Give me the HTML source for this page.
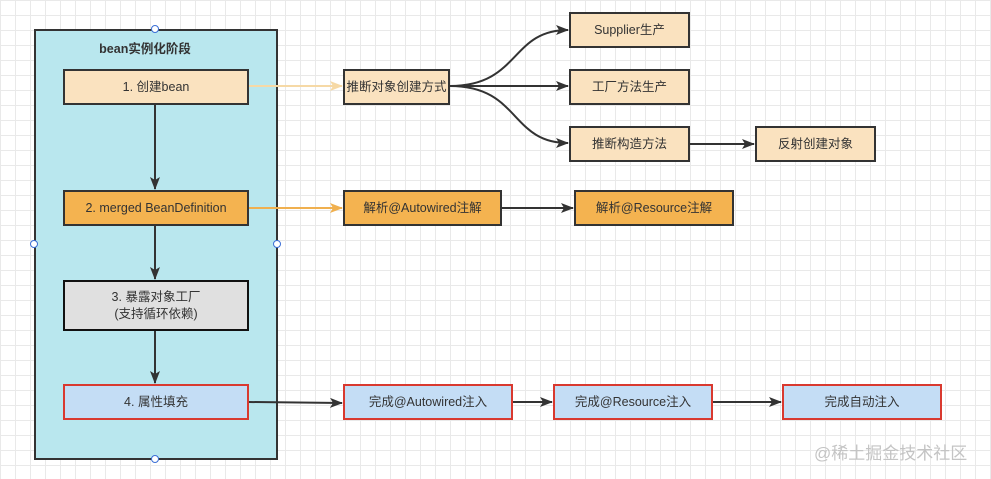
<!DOCTYPE html>
<html><head><meta charset="utf-8"><style>
body{margin:0;width:991px;height:479px;overflow:hidden;background:#fff;
background-image:linear-gradient(#e9e9e9 1px,transparent 1px),linear-gradient(90deg,#e9e9e9 1px,transparent 1px);background-size:15px 15px;
font-family:"Liberation Sans","Noto Sans CJK SC",sans-serif;}
.b{position:absolute;box-sizing:border-box;border:2px solid #333;display:flex;align-items:center;justify-content:center;font-size:12.5px;color:#333;text-align:center;line-height:17px;white-space:nowrap}
.l{background:#fae2bf}.o{background:#f4b350}.g{background:#e0e0e0;border-color:#111}.c{background:#c4ddf5;border-color:#d9392f}
svg{position:absolute;left:0;top:0}
</style></head><body>
<div class="b" style="left:34px;top:29px;width:244px;height:431px;background:#b9e7ee;border-color:#333;align-items:flex-start;padding-top:10px;font-weight:bold;font-size:12.5px"><span style="margin-left:-22px">bean实例化阶段</span></div>
<div class="b l" style="left:63px;top:69px;width:186px;height:36px">1. 创建bean</div>
<div class="b o" style="left:63px;top:190px;width:186px;height:36px">2. merged BeanDefinition</div>
<div class="b g" style="left:63px;top:280px;width:186px;height:51px">3. 暴露对象工厂<br>(支持循环依赖)</div>
<div class="b c" style="left:63px;top:384px;width:186px;height:36px">4. 属性填充</div>
<div class="b l" style="left:343px;top:69px;width:107px;height:36px">推断对象创建方式</div>
<div class="b l" style="left:569px;top:12px;width:121px;height:36px">Supplier生产</div>
<div class="b l" style="left:569px;top:69px;width:121px;height:36px">工厂方法生产</div>
<div class="b l" style="left:569px;top:126px;width:121px;height:36px">推断构造方法</div>
<div class="b l" style="left:755px;top:126px;width:121px;height:36px">反射创建对象</div>
<div class="b o" style="left:343px;top:190px;width:159px;height:36px">解析@Autowired注解</div>
<div class="b o" style="left:574px;top:190px;width:160px;height:36px">解析@Resource注解</div>
<div class="b c" style="left:343px;top:384px;width:170px;height:36px">完成@Autowired注入</div>
<div class="b c" style="left:553px;top:384px;width:160px;height:36px">完成@Resource注入</div>
<div class="b c" style="left:782px;top:384px;width:160px;height:36px">完成自动注入</div>
<svg width="991" height="479">
<defs><marker id="a" markerWidth="13" markerHeight="10" refX="12" refY="5" orient="auto" markerUnits="userSpaceOnUse"><path d="M0,0L13,5L0,10L3,5z" fill="#333"/></marker>
<marker id="y" markerWidth="13" markerHeight="10" refX="12" refY="5" orient="auto" markerUnits="userSpaceOnUse"><path d="M0,0L13,5L0,10L3,5z" fill="#f6d9a6"/></marker>
<marker id="o" markerWidth="13" markerHeight="10" refX="12" refY="5" orient="auto" markerUnits="userSpaceOnUse"><path d="M0,0L13,5L0,10L3,5z" fill="#f0b04f"/></marker></defs>
<g fill="none" stroke-width="2">
<path d="M155 105V189" stroke="#333" marker-end="url(#a)"/>
<path d="M155 226V279" stroke="#333" marker-end="url(#a)"/>
<path d="M155 331V383" stroke="#333" marker-end="url(#a)"/>
<path d="M249 86H342" stroke="#f6d9a6" marker-end="url(#y)"/>
<path d="M249 208H342" stroke="#f0b04f" marker-end="url(#o)"/>
<path d="M249 402L342 403" stroke="#333" marker-end="url(#a)"/>
<path d="M450 86C520 86 510 30 568 30" stroke="#333" marker-end="url(#a)"/>
<path d="M450 86H568" stroke="#333" marker-end="url(#a)"/>
<path d="M450 86C520 86 510 143 568 143" stroke="#333" marker-end="url(#a)"/>
<path d="M690 144H754" stroke="#333" marker-end="url(#a)"/>
<path d="M502 208H573" stroke="#333" marker-end="url(#a)"/>
<path d="M513 402H552" stroke="#333" marker-end="url(#a)"/>
<path d="M713 402H781" stroke="#333" marker-end="url(#a)"/>
</g>
<g fill="#fff" stroke="#3b6fd6" stroke-width="1"><circle cx="155" cy="29" r="3.5"/><circle cx="155" cy="459" r="3.5"/><circle cx="34" cy="244" r="3.5"/><circle cx="277" cy="244" r="3.5"/></g>
<text x="814" y="459" font-size="17" fill="#c4c4c4" font-family="Liberation Sans,Noto Sans CJK SC,sans-serif">@稀土掘金技术社区</text>
</svg>
</body></html>
